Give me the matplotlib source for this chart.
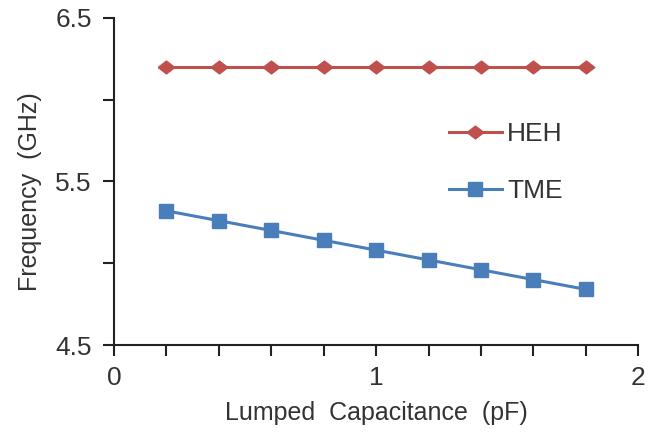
import matplotlib
matplotlib.use("Agg")
import matplotlib.pyplot as plt
from matplotlib.ticker import MultipleLocator, FixedLocator

plt.rcParams['font.family'] = ['Liberation Sans', 'DejaVu Sans']

capacitance = [0.2, 0.4, 0.6, 0.8, 1.0, 1.2, 1.4, 1.6, 1.8]
heh = [6.20, 6.20, 6.20, 6.20, 6.20, 6.20, 6.20, 6.20, 6.20]
tme = [5.32, 5.26, 5.20, 5.14, 5.08, 5.02, 4.96, 4.90, 4.84]

x_ticks = [0, 1, 2]
x_tick_labels = ['0', '1', '2']
y_ticks = [4.5, 5.5, 6.5]
y_tick_labels = ['4.5', '5.5', '6.5']

red = '#C0504D'
blue = '#4A7EBB'
text_color = '#333333'
axis_color = '#222222'

# slightly wide diamond marker
diamond = [(-1.3, 0), (0, 1), (1.3, 0), (0, -1), (-1.3, 0)]

fig = plt.figure(figsize=(6.67, 4.34), dpi=100)
ax = fig.add_axes([0.171, 0.205, 0.786, 0.754])

ax.plot(capacitance, heh, color=red, lw=2.2, marker=diamond, ms=12, label='HEH')
ax.plot(capacitance, tme, color=blue, lw=2.2, marker='s', ms=10, label='TME')

ax.set_xlim(0, 2)
ax.set_ylim(4.5, 6.5)

ax.xaxis.set_major_locator(FixedLocator(x_ticks))
ax.xaxis.set_minor_locator(MultipleLocator(0.2))
ax.yaxis.set_major_locator(FixedLocator(y_ticks))
ax.yaxis.set_minor_locator(MultipleLocator(0.5))
ax.set_xticklabels(x_tick_labels)
ax.set_yticklabels(y_tick_labels)

for s in ('top', 'right'):
    ax.spines[s].set_visible(False)
for s in ('left', 'bottom'):
    ax.spines[s].set_linewidth(1.5)
    ax.spines[s].set_color(axis_color)

ax.tick_params(which='both', direction='out', length=8, width=1.5, color=axis_color)
ax.tick_params(axis='y', which='major', labelsize=19, pad=8, labelcolor=text_color)
ax.tick_params(axis='x', which='major', labelsize=19, pad=7, labelcolor=text_color)

ax.set_xlabel('Lumped  Capacitance  (pF)', fontsize=18, color=text_color, labelpad=8)
ax.set_ylabel('Frequency  (GHz)', fontsize=18, color=text_color)
ax.yaxis.set_label_coords(-0.137, 0.47)

leg = ax.legend(loc='upper left', bbox_to_anchor=(449 / 667, 1 - 122 / 434),
                bbox_transform=fig.transFigure, frameon=False, borderpad=0,
                borderaxespad=0, fontsize=19, handlelength=2.0,
                handletextpad=0.2, labelspacing=1.25)
for t in leg.get_texts():
    t.set_color(text_color)

fig.savefig('out.png', dpi=100)
